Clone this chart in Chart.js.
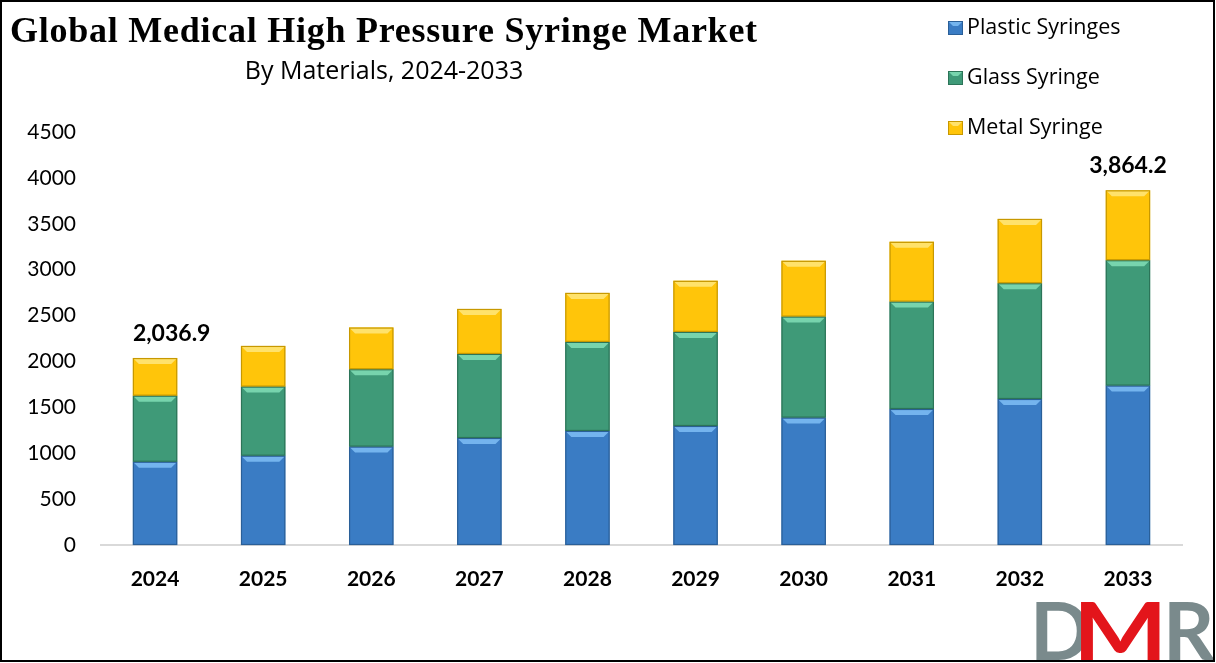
<!DOCTYPE html>
<html>
<head>
<meta charset="utf-8">
<script src="https://cdn.jsdelivr.net/npm/chart.js@4"></script>
<style>
  body { margin: 0; background: #fff; }
  #wrap { width: 1216px; height: 663px; position: relative; }
</style>
</head>
<body>
<div id="wrap"><canvas id="marketChart"></canvas></div>
<script>
const years = ['2024', '2025', '2026', '2027', '2028', '2029', '2030', '2031', '2032', '2033'];
const plasticSyringes = [907, 973, 1072, 1166, 1243, 1297, 1388, 1482, 1591, 1737];
const glassSyringe = [720, 753, 843, 916, 970, 1025, 1101, 1170, 1261, 1366];
const metalSyringe = [409.9, 443, 454, 490, 534, 556, 607, 651, 701, 761.2];
const yTicks = [0, 500, 1000, 1500, 2000, 2500, 3000, 3500, 4000, 4500];
const labelledYears = [0, 9];

const palette = [
    { main: '#3a7cc4', light: '#74b4ee', dark: '#2a5f98' },
    { main: '#3f9a78', light: '#77d4ad', dark: '#2c7458' },
    { main: '#ffc50a', light: '#ffe26b', dark: '#c79800' }
];

// bevelled look of the excel bars
const bevelPlugin = {
    id: 'bevel',
    afterDatasetsDraw(chart) {
        const ctx = chart.ctx;
        chart.data.datasets.forEach(function (ds, i) {
            const c = palette[i];
            chart.getDatasetMeta(i).data.forEach(function (bar) {
                const p = bar.getProps(['x', 'y', 'base', 'width'], true);
                const l = p.x - p.width / 2, r = p.x + p.width / 2;
                const t = Math.min(p.y, p.base), b = Math.max(p.y, p.base);
                const bv = 6;
                ctx.save();
                ctx.fillStyle = c.light;
                ctx.beginPath();
                ctx.moveTo(l, t); ctx.lineTo(r, t);
                ctx.lineTo(r - bv, t + bv); ctx.lineTo(l + bv, t + bv);
                ctx.closePath(); ctx.fill();
                ctx.strokeStyle = c.dark;
                ctx.lineWidth = 1.2;
                ctx.strokeRect(l + 0.5, t + 0.5, p.width - 1, b - t - 1);
                ctx.restore();
            });
        });
    }
};

const decorPlugin = {
    id: 'decor',
    afterDraw(chart) {
        const ctx = chart.ctx;
        ctx.save();
        // title
        ctx.fillStyle = '#000';
        ctx.textBaseline = 'middle';
        ctx.textAlign = 'left';
        ctx.font = 'bold 36px "Liberation Serif"';
        ctx.letterSpacing = '0.75px';
        ctx.fillText('Global Medical High Pressure Syringe Market', 10, 33);
        ctx.letterSpacing = '0px';
        ctx.textAlign = 'center';
        ctx.font = '25px "Open Sans"';
        ctx.fillText('By Materials, 2024-2033', 384, 72);

        // legend
        ctx.textAlign = 'left';
        ctx.font = '21.5px "Open Sans"';
        chart.data.datasets.forEach(function (ds, i) {
            const y = 28 + i * 50;
            const c = palette[i];
            ctx.fillStyle = c.main;
            ctx.fillRect(948, y - 7, 15, 14);
            ctx.fillStyle = c.light;
            ctx.beginPath();
            ctx.moveTo(948, y - 7); ctx.lineTo(963, y - 7); ctx.lineTo(958, y - 2); ctx.lineTo(953, y - 2);
            ctx.closePath(); ctx.fill();
            ctx.strokeStyle = c.dark;
            ctx.lineWidth = 1;
            ctx.strokeRect(948.5, y - 6.5, 14, 13);
            ctx.fillStyle = '#000';
            ctx.fillText(ds.label, 967, y);
        });

        // totals
        ctx.textBaseline = 'bottom';
        ctx.font = 'bold 23px Lato';
        const lastMeta = chart.getDatasetMeta(chart.data.datasets.length - 1);
        labelledYears.forEach(function (idx, k) {
            const total = plasticSyringes[idx] + glassSyringe[idx] + metalSyringe[idx];
            const bar = lastMeta.data[idx];
            const txt = total.toLocaleString('en-US', { minimumFractionDigits: 1, maximumFractionDigits: 1 });
            if (k === 0) {
                ctx.textAlign = 'left';
                ctx.fillText(txt, bar.x - bar.width / 2, bar.y - 13);
            } else {
                ctx.textAlign = 'center';
                ctx.fillText(txt, bar.x, bar.y - 13);
            }
        });

        // logo
        ctx.textBaseline = 'alphabetic';
        ctx.textAlign = 'left';
        ctx.font = 'bold 80px Lato';
        ctx.fillStyle = '#7a8a8c';
        ctx.fillText('D', 1030, 660);
        ctx.fillText('R', 1163, 660);
        ctx.fillStyle = '#e3151b';
        ctx.save();
        ctx.translate(1073, 660);
        ctx.scale(1.25, 1);
        ctx.fillText('M', 0, 0);
        ctx.restore();

        // frame
        ctx.strokeStyle = '#000';
        ctx.lineWidth = 2;
        ctx.strokeRect(1, 1, 1213, 660);
        ctx.restore();
    }
};

const ctx = document.getElementById('marketChart').getContext('2d');
new Chart(ctx, {
    type: 'bar',
    data: {
        labels: years,
        datasets: [
            { label: 'Plastic Syringes', data: plasticSyringes, backgroundColor: palette[0].main },
            { label: 'Glass Syringe', data: glassSyringe, backgroundColor: palette[1].main },
            { label: 'Metal Syringe', data: metalSyringe, backgroundColor: palette[2].main }
        ]
    },
    options: {
        responsive: true,
        maintainAspectRatio: false,
        animation: false,
        layout: { padding: { top: 132, right: 34, left: 0, bottom: 0 } },
        datasets: { bar: { barPercentage: 0.41, categoryPercentage: 1 } },
        plugins: { legend: { display: false }, tooltip: { enabled: false } },
        scales: {
            x: {
                stacked: true,
                grid: { display: false, drawTicks: false },
                border: { display: true, color: '#d9d9d9', width: 2 },
                ticks: { color: '#000', padding: 22, font: { family: 'Lato', size: 21, weight: 'bold' } },
                afterFit: function (scale) { scale.height = 118; }
            },
            y: {
                stacked: true,
                min: 0,
                max: 4500,
                afterBuildTicks: function (scale) { scale.ticks = yTicks.map(function (v) { return { value: v }; }); },
                grid: { display: false, drawTicks: false },
                border: { display: false },
                ticks: {
                    color: '#000', padding: 25, font: { family: 'Lato', size: 21 },
                    callback: function (v) { return String(v); }
                },
                afterFit: function (scale) { scale.width = 101; }
            }
        }
    },
    plugins: [bevelPlugin, decorPlugin]
});
</script>
</body>
</html>
